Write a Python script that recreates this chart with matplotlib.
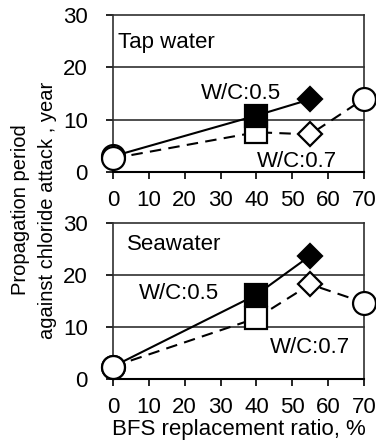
import matplotlib
matplotlib.use("Agg")
import matplotlib.pyplot as plt

plt.rcParams['font.family'] = ['Liberation Sans', 'DejaVu Sans']

bfs_05 = [0, 40, 55]
bfs_07 = [0, 40, 55, 70]
tap_05 = [3.0, 10.8, 13.9]
tap_07 = [2.6, 7.6, 7.2, 14.0]
sea_05 = [2.4, 16.2, 23.7]
sea_07 = [2.4, 11.7, 18.2, 14.7]
xticks = [0, 10, 20, 30, 40, 50, 60, 70]
yticks = [0, 10, 20, 30]

fig = plt.figure(figsize=(3.76, 4.45), dpi=100)
ax1 = fig.add_axes([0.3005, 0.6135, 0.6675, 0.3525])
ax2 = fig.add_axes([0.3005, 0.1483, 0.6675, 0.3506])

FS = 16
mk_open = dict(markerfacecolor='white', markeredgecolor='black', markeredgewidth=1.6)
mk_fill = dict(markerfacecolor='black', markeredgecolor='black', markeredgewidth=1.6)

def draw(ax, y05, y07):
    ax.plot(bfs_07, y07, color='black', lw=1.5, ls=(0, (5.5, 3.5)), zorder=3)
    ax.plot(bfs_05, y05, color='black', lw=1.5, ls='-', zorder=3)
    shapes = ['o', 's', 'D', 'o']
    sizes = [16.5, 15.5, 12.5, 16.5]
    for i, (x, y) in enumerate(zip(bfs_07, y07)):
        ax.plot([x], [y], marker=shapes[i], ms=sizes[i], ls='none', zorder=4, **mk_open)
    for i, (x, y) in enumerate(zip(bfs_05, y05)):
        st = mk_open if i == 0 else mk_fill
        ax.plot([x], [y], marker=shapes[i], ms=sizes[i], ls='none', zorder=5 if i else 3.5, **st)
    ax.set_xlim(0, 70)
    ax.set_ylim(0, 30)
    ax.set_xticks(xticks)
    ax.set_yticks(yticks)
    ax.tick_params(labelsize=FS, direction='out', length=5, width=1.2, colors='black')
    ax.tick_params(axis='y', pad=13)
    ax.tick_params(axis='x', pad=8)
    for v in [10, 20]:
        ax.axhline(v, color='#303030', lw=1.2, zorder=1)
    for s in ax.spines.values():
        s.set_linewidth(1.2)
        s.set_color('#303030')
    ax.spines['bottom'].set_color('black')
    ax.spines['bottom'].set_linewidth(1.5)
    for ln in ax.get_lines():
        ln.set_clip_on(False)

draw(ax1, tap_05, tap_07)
draw(ax2, sea_05, sea_07)

ax1.text(1.4, 23.7, 'Tap water', fontsize=FS, va='baseline', ha='left')
ax1.text(35.8, 13.9, 'W/C:0.5', fontsize=FS, va='baseline', ha='center')
ax1.text(51.3, 0.96, 'W/C:0.7', fontsize=FS, va='baseline', ha='center')
ax2.text(3.9, 24.8, 'Seawater', fontsize=FS, va='baseline', ha='left')
ax2.text(18.4, 15.4, 'W/C:0.5', fontsize=FS, va='baseline', ha='center')
ax2.text(54.8, 5.0, 'W/C:0.7', fontsize=FS, va='baseline', ha='center')

ax2.set_xlabel('BFS replacement ratio, %', fontsize=FS, labelpad=1)
fig.text(0.09, 0.528, 'Propagation period\nagainst chloride attack , year',
         rotation=90, fontsize=14.5, ha='center', va='center', linespacing=1.5)

fig.savefig('out.png', dpi=100)
